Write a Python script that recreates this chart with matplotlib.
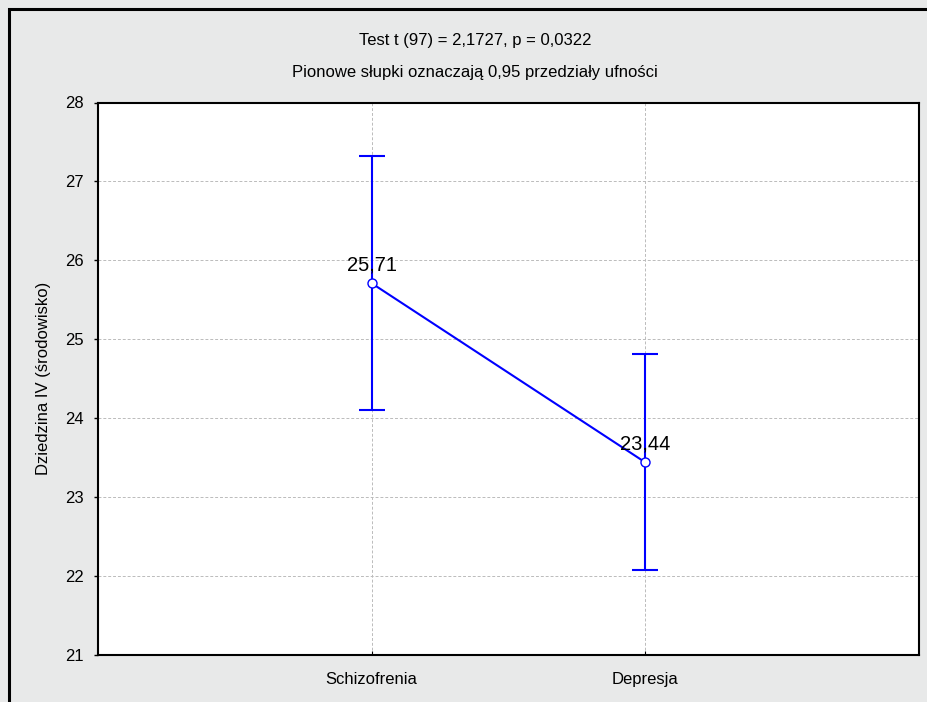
import matplotlib
matplotlib.use('Agg')
import matplotlib.pyplot as plt
from matplotlib.patches import Rectangle

plt.rcParams['font.family'] = ['Liberation Sans', 'DejaVu Sans']

# dane
groups = ['Schizofrenia', 'Depresja']
means = [25.71, 23.44]
ci_low = [24.11, 22.08]
ci_high = [27.32, 24.81]
mean_labels = ['25,71', '23,44']
yticks = [21, 22, 23, 24, 25, 26, 27, 28]

title_1 = 'Test t (97) = 2,1727, p = 0,0322'
title_2 = 'Pionowe słupki oznaczają 0,95 przedziały ufności'
ylabel = 'Dziedzina IV (środowisko)'

bg_gray = '#E8E9E9'
line_blue = '#0000FF'

fig = plt.figure(figsize=(9.28, 7.02), dpi=100, facecolor=bg_gray)
ax = fig.add_axes([98 / 928, 1 - 655 / 702, (919 - 98) / 928, (655 - 102.5) / 702])
ax.set_facecolor('white')

xpos = [1, 2]
yerr = [[m - lo for m, lo in zip(means, ci_low)],
        [hi - m for m, hi in zip(means, ci_high)]]

ax.errorbar(xpos, means, yerr=yerr, fmt='none', ecolor=line_blue,
            elinewidth=1.5, capsize=9.5, capthick=1.5, zorder=3)
ax.plot(xpos, means, color=line_blue, linewidth=1.5, marker='o',
        markersize=6.5, markerfacecolor='white', markeredgecolor=line_blue,
        markeredgewidth=1.0, zorder=4)

for x, m, lab in zip(xpos, means, mean_labels):
    ax.annotate(lab, (x, m), xytext=(0, 9.5), textcoords='offset points',
                ha='center', va='baseline', fontsize=14.5, color='black', zorder=5)

ax.set_xlim(0, 3)
ax.set_ylim(21, 28)
ax.set_xticks(xpos)
ax.set_xticklabels(groups)
ax.set_yticks(yticks)

ax.grid(True, color='#BBBBBB', linestyle=(0, (3, 2)), linewidth=0.7)
ax.set_axisbelow(True)

for sp in ax.spines.values():
    sp.set_linewidth(1.5)
    sp.set_color('black')

ax.tick_params(axis='y', direction='out', length=3, width=1, pad=7, labelsize=12)
ax.tick_params(axis='x', direction='in', length=3, width=0.8, pad=12, labelsize=12)

ax.set_ylabel(ylabel, fontsize=12, labelpad=10)

fig.text(475 / 928, 1 - 40 / 702, title_1, ha='center', va='center', fontsize=12)
fig.text(475 / 928, 1 - 72 / 702, title_2, ha='center', va='center', fontsize=12)

# ramka wokół wykresu
fig.patches.append(Rectangle((9 / 928, -0.2), 1.3, 1.2 - 9 / 702,
                             transform=fig.transFigure, fill=False,
                             edgecolor='black', linewidth=2.2))

fig.savefig('out.png', dpi=100, facecolor=bg_gray)
